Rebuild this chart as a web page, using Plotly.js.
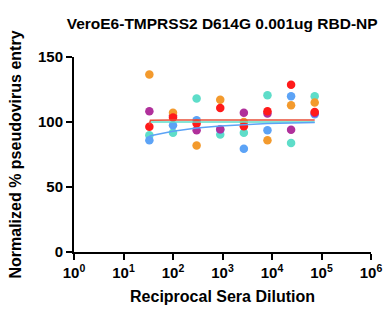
<!DOCTYPE html>
<html>
<head>
<meta charset="utf-8">
<script src="https://cdn.plot.ly/plotly-3.0.1.min.js"></script>
<style>html,body{margin:0;padding:0;background:#fff;}#chart{width:385px;height:310px;}</style>
</head>
<body>
<div id="chart"></div>
<script>
// Reciprocal sera dilutions
const dilutions = [33.3, 100, 300, 900, 2700, 8100, 24300, 72900];
// Normalized % pseudovirus entry per serum
const tealVals   = [89.8, 91.8, 118.0, 90.3, 91.8, 120.5, 83.8, 119.8];
const blueVals   = [86.0, 97.5, 101.3, 94.1, 79.5, 93.6, 119.8, 106.0];
const purpleVals = [108.2, 105.0, 93.6, 94.5, 107.2, 106.5, 94.1, 107.0];
const orangeVals = [136.5, 107.2, 82.0, 117.2, 100.0, 86.0, 112.8, 115.0];
const redVals    = [96.3, 103.4, 98.8, 110.8, 96.7, 108.2, 128.6, 107.7];
// Fitted curves
const fitX      = [33.3, 35, 100, 300, 900, 2700, 8100, 24300, 72900];
const tealFit   = [99.8, 100.0, 100.0, 100.0, 100.0, 100.0, 100.0, 100.0, 100.0];
const blueFit   = [89.0, 89.5, 92.8, 95.3, 97.0, 98.1, 98.8, 99.3, 99.6];
const redFit    = [98.0, 101.3, 101.5, 101.5, 101.5, 101.5, 101.5, 101.5, 101.5];
// Tick labels
const xTickVals = [1, 10, 100, 1000, 10000, 100000, 1000000];
const xTickText = ['<b>10<sup>0</sup></b>','<b>10<sup>1</sup></b>','<b>10<sup>2</sup></b>','<b>10<sup>3</sup></b>','<b>10<sup>4</sup></b>','<b>10<sup>5</sup></b>','<b>10<sup>6</sup></b>'];
const yTickVals = [0, 50, 100, 150];
const yTickText = ['<b>0</b>', '<b>50</b>', '<b>100</b>', '<b>150</b>'];

const colors = {teal:'#5EDDC9', blue:'#5CA3F6', purple:'#B0309B', orange:'#F39A2D', red:'#FF1A1A'};
const F = {family:'Liberation Sans, Arial, sans-serif', color:'#000'};

function pts(vals, c){
  return {x: dilutions, y: vals, type:'scatter', mode:'markers',
    marker:{color:c, size:8.5, line:{width:0}}, hoverinfo:'skip', showlegend:false};
}
function fit(vals, c){
  return {x: fitX, y: vals, type:'scatter', mode:'lines',
    line:{color:c, width:1.5}, hoverinfo:'skip', showlegend:false};
}
const data = [
  pts(tealVals, colors.teal),
  pts(blueVals, colors.blue),
  pts(purpleVals, colors.purple),
  pts(orangeVals, colors.orange),
  pts(redVals, colors.red),
  fit(tealFit, colors.teal),
  fit(blueFit, colors.blue),
  fit(redFit, '#E8503A')
];

const layout = {
  width:385, height:310,
  margin:{l:74, r:14, t:57, b:58},
  paper_bgcolor:'#fff', plot_bgcolor:'#fff',
  title:{text:'<b>VeroE6-TMPRSS2 D614G 0.001ug RBD-NP</b>', font:Object.assign({}, F, {size:15.5}),
    x:0.577, xanchor:'center', y:0.925, yanchor:'middle'},
  xaxis:{type:'log', range:[0,6], tickvals:xTickVals, ticktext:xTickText,
    showgrid:false, zeroline:false, showline:true, linecolor:'#000', linewidth:2,
    ticks:'outside', ticklen:6, tickwidth:2, tickcolor:'#000',
    tickfont:Object.assign({}, F, {size:15}),
    title:{text:'<b>Reciprocal Sera Dilution</b>', font:Object.assign({}, F, {size:16}), standoff:11}},
  yaxis:{range:[0,150], tickvals:yTickVals, ticktext:yTickText,
    showgrid:false, zeroline:false, showline:true, linecolor:'#000', linewidth:2,
    ticks:'outside', ticklen:6, tickwidth:2, tickcolor:'#000',
    tickfont:Object.assign({}, F, {size:15}),
    title:{text:'<b>Normalized % pseudovirus entry</b>', font:Object.assign({}, F, {size:16}), standoff:12}}
};
Plotly.newPlot('chart', data, layout, {displayModeBar:false, staticPlot:true});
</script>
</body>
</html>
